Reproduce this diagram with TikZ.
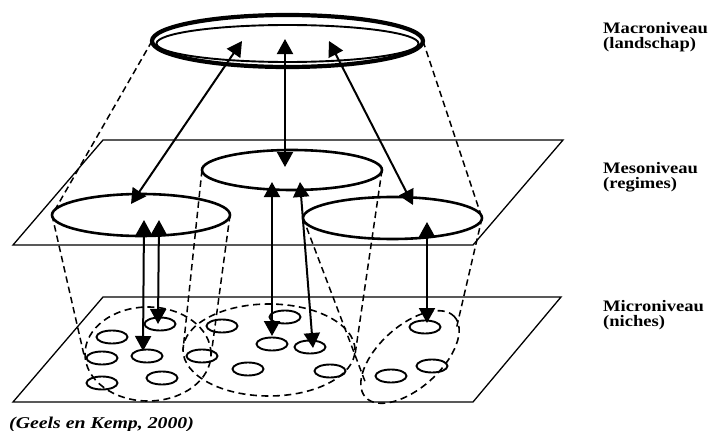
\documentclass[tikz,border=0pt]{standalone}
\usepackage{fontspec}
\setmainfont{Liberation Serif}
\usetikzlibrary{arrows.meta,shapes.geometric}

\tikzset{
  plane/.style={line width=1.3pt},
  cone/.style={line width=1.5pt, dash pattern=on 6.5pt off 4pt},
  regime/.style={line width=2.6pt},
  niche/.style={draw, ellipse, line width=1.9pt, minimum width=31pt, minimum height=13pt, inner sep=0pt},
  group/.style={line width=1.6pt, dash pattern=on 7pt off 4.5pt},
  link/.style={line width=2pt,
    {Triangle[length=15pt,width=16pt]}-{Triangle[length=15pt,width=16pt]}},
  lbl/.style={anchor=north west, inner sep=0pt, align=left,
    font=\fontsize{16pt}{15.5pt}\selectfont\bfseries},
}

\newcommand{\wide}[1]{\scalebox{1.16}[1]{#1}}

\begin{document}
\begin{tikzpicture}[x=1pt,y=-1pt]
\useasboundingbox (0,0) rectangle (713,431);

% the two planes
\draw[plane] (13,245) -- (103,140) -- (563,140) -- (473,245) -- cycle;
\draw[plane] (13,402) -- (103,297) -- (561,297) -- (473,402) -- cycle;

% landscape, regime and niche-group centres
\coordinate (L)  at (287.5,41);
\coordinate (R1) at (141,215);
\coordinate (R2) at (292,170);
\coordinate (R3) at (392.5,218);
\coordinate (G1) at (148,354);
\coordinate (G2) at (269,350);
\coordinate (G3) at (410,357);

% ends of the ellipses used by the dashed cone lines
\coordinate (Lw)  at (152,41);   \coordinate (Le)  at (423,41);
\coordinate (R1w) at (52,215);   \coordinate (R1e) at (230,215);
\coordinate (R2w) at (202,170);  \coordinate (R2e) at (382,170);
\coordinate (R3w) at (303,218);  \coordinate (R3e) at (482,218);
\coordinate (G1w) at (84,355);   \coordinate (G1e) at (211,356);
\coordinate (G2w) at (183,350);  \coordinate (G2e) at (355,355);
\coordinate (G3w) at (366,384);  \coordinate (G3e) at (456,330);

% dashed cone lines
\draw[cone] (Lw) -- (R1w);
\draw[cone] (Le) -- (R3e);
\draw[cone] (R1w) -- (G1w);
\draw[cone] (R1e) -- (G1e);
\draw[cone] (R2w) -- (G2w);
\draw[cone] (R2e) -- (G2e);
\draw[cone] (R3w) -- (G3w);
\draw[cone] (R3e) -- (G3e);

% macro level: landscape
\draw[line width=4.2pt] (L) ellipse [x radius=135.5pt, y radius=26pt];
\draw[line width=1.9pt] (287.5,43.5) ellipse [x radius=131pt, y radius=18.5pt];

% meso level: regimes
\draw[regime] (R1) ellipse [x radius=89pt, y radius=21pt];
\draw[regime] (R2) ellipse [x radius=90pt, y radius=20pt];
\draw[regime] (R3) ellipse [x radius=89.5pt, y radius=21pt];

% micro level: niche groups
\draw[group] (G1) ellipse [x radius=63pt, y radius=47pt];
\draw[group] (G2) ellipse [x radius=86pt, y radius=46pt];
\draw[group, rotate around={42:(G3)}] (G3) ellipse [x radius=60pt, y radius=31pt];

% niches
\node[niche] (n1)  at (160,324) {};
\node[niche] (n2)  at (112,337) {};
\node[niche] (n3)  at (102,358) {};
\node[niche] (n4)  at (147,356) {};
\node[niche] (n5)  at (102,383) {};
\node[niche] (n6)  at (162,378) {};
\node[niche] (n7)  at (202,356) {};
\node[niche] (n8)  at (222,326) {};
\node[niche] (n9)  at (285,317) {};
\node[niche] (n10) at (272,344) {};
\node[niche] (n11) at (310,347) {};
\node[niche] (n12) at (248,369) {};
\node[niche] (n13) at (330,371) {};
\node[niche] (n14) at (425,327) {};
\node[niche] (n15) at (432,366) {};
\node[niche] (n16) at (391,376) {};

% arrow ends
\coordinate (a1t) at (242,41);  \coordinate (a1b) at (131,204);
\coordinate (a2t) at (285,39);  \coordinate (a2b) at (285,167);
\coordinate (a3t) at (329,41);  \coordinate (a3b) at (413,205);
\coordinate (b1t) at (144,220); \coordinate (b1b) at (143,351);
\coordinate (b2t) at (159,220); \coordinate (b2b) at (158,324);
\coordinate (c1t) at (272,182); \coordinate (c1b) at (272,336);
\coordinate (c2t) at (300,182); \coordinate (c2b) at (313,348);
\coordinate (d1t) at (427,222); \coordinate (d1b) at (427,323);

% interactions between the levels
\draw[link] (a1t) -- (a1b);
\draw[link] (a2t) -- (a2b);
\draw[link] (a3t) -- (a3b);
\draw[link] (b1t) -- (b1b);
\draw[link] (b2t) -- (b2b);
\draw[link] (c1t) -- (c1b);
\draw[link] (c2t) -- (c2b);
\draw[link] (d1t) -- (d1b);

% level labels
\node[lbl] (tmacro) at (603,22)  {\wide{Macroniveau}\\\wide{(landschap)}};
\node[lbl] (tmeso)  at (603,162) {\wide{Mesoniveau}\\\wide{(regimes)}};
\node[lbl] (tmicro) at (603,300) {\wide{Microniveau}\\\wide{(niches)}};

% source
\node[anchor=base west, inner sep=0pt,
  font=\fontsize{16.5pt}{16.5pt}\selectfont\bfseries\itshape] (src) at (9,428)
  {\scalebox{1.2}[1]{(Geels en Kemp, 2000)}};
\end{tikzpicture}
\end{document}
